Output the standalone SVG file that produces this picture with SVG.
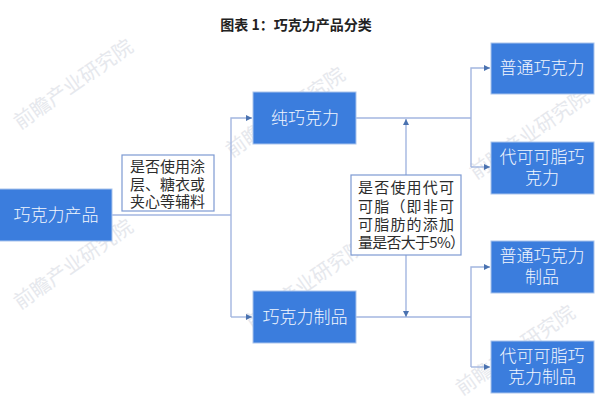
<svg xmlns="http://www.w3.org/2000/svg" width="600" height="404" viewBox="0 0 600 404">
<style>
text{font-family:"Noto Sans CJK SC","Liberation Serif",serif}
.b{fill:#3b7ddd;stroke:#a9c4ec;stroke-width:1}
.t{fill:#f2f6fd;font-size:17px;text-anchor:middle;font-family:"Noto Sans CJK SC",sans-serif;font-weight:300}
.l{fill:#fff;stroke:#7d9ad2;stroke-width:1.2}
.d{fill:#2d2d2d;font-size:15px;font-family:"Noto Sans CJK SC",serif}
.w{fill:#e6e8ed;font-size:20px;font-family:"Noto Sans CJK SC",sans-serif}
.c{fill:none;stroke:#a3b6e0;stroke-width:1.4}
</style>
<defs><marker id="a" markerWidth="7" markerHeight="7" refX="6" refY="3" orient="auto" markerUnits="userSpaceOnUse"><path d="M0 0L6 3L0 6z" fill="#4a72b0"/></marker></defs>
<rect width="600" height="404" fill="#fff"/>
<g id="watermarks">
<text class="w" transform="translate(20,130) rotate(-35)">前瞻产业研究院</text>
<text class="w" transform="translate(232,158) rotate(-35)">前瞻产业研究院</text>
<text class="w" transform="translate(20,310) rotate(-35)">前瞻产业研究院</text>
<text class="w" transform="translate(252,330) rotate(-35)">前瞻产业研究院</text>
<text class="w" transform="translate(476,180) rotate(-35)">前瞻产业研究院</text>
<text class="w" transform="translate(462,396) rotate(-35)">前瞻产业研究院</text>
</g>
<text id="title" x="296" y="30" text-anchor="middle" style="font-size:14px;font-weight:700;fill:#222;font-family:'Noto Sans CJK SC',sans-serif">图表 1：巧克力产品分类</text>
<g id="connectors">
<path class="c" d="M112 215H231"/>
<path class="c" d="M231 317V118H252" marker-end="url(#a)"/>
<path class="c" d="M231 317H252" marker-end="url(#a)"/>
<path class="c" d="M356 118H471"/>
<path class="c" d="M471 167V68H490" marker-end="url(#a)"/>
<path class="c" d="M471 167H490" marker-end="url(#a)"/>
<path class="c" d="M356 317H471"/>
<path class="c" d="M471 367V267H490" marker-end="url(#a)"/>
<path class="c" d="M471 367H490" marker-end="url(#a)"/>
<path class="c" d="M406 175V119" marker-end="url(#a)"/>
<path class="c" d="M406 255V317" marker-end="url(#a)"/>
</g>
<g id="n-root"><rect class="b" x="-1" y="189" width="113" height="52"/><text class="t" x="56" y="221">巧克力产品</text></g>
<g id="n-pure"><rect class="b" x="253" y="92" width="103" height="52"/><text class="t" x="305" y="124">纯巧克力</text></g>
<g id="n-prod"><rect class="b" x="253" y="291" width="103" height="52"/><text class="t" x="305" y="323">巧克力制品</text></g>
<g id="n-r1"><rect class="b" x="491" y="43" width="103" height="51"/><text class="t" x="542" y="74">普通巧克力</text></g>
<g id="n-r2"><rect class="b" x="491" y="142" width="103" height="52"/><text class="t" x="542" y="163">代可可脂巧</text><text class="t" x="542" y="184">克力</text></g>
<g id="n-r3"><rect class="b" x="491" y="241" width="103" height="52"/><text class="t" x="542" y="262">普通巧克力</text><text class="t" x="542" y="283">制品</text></g>
<g id="n-r4"><rect class="b" x="491" y="341" width="103" height="52"/><text class="t" x="542" y="362">代可可脂巧</text><text class="t" x="542" y="383">克力制品</text></g>
<g id="n-label1"><rect class="l" x="122" y="155" width="92" height="56"/>
<text class="d" x="130" y="172">是否使用涂</text><text class="d" x="130" y="190">层、糖衣或</text><text class="d" x="130" y="207">夹心等辅料</text></g>
<g id="n-label2"><rect class="l" x="351" y="175" width="110" height="80"/>
<text class="d" x="358" y="193" textLength="96">是否使用代可</text><text class="d" x="358" y="212" textLength="96">可脂（即非可</text><text class="d" x="358" y="230" textLength="96">可脂肪的添加</text><text class="d" x="358" y="248" textLength="107">量是否大于5%）</text></g>
</svg>
